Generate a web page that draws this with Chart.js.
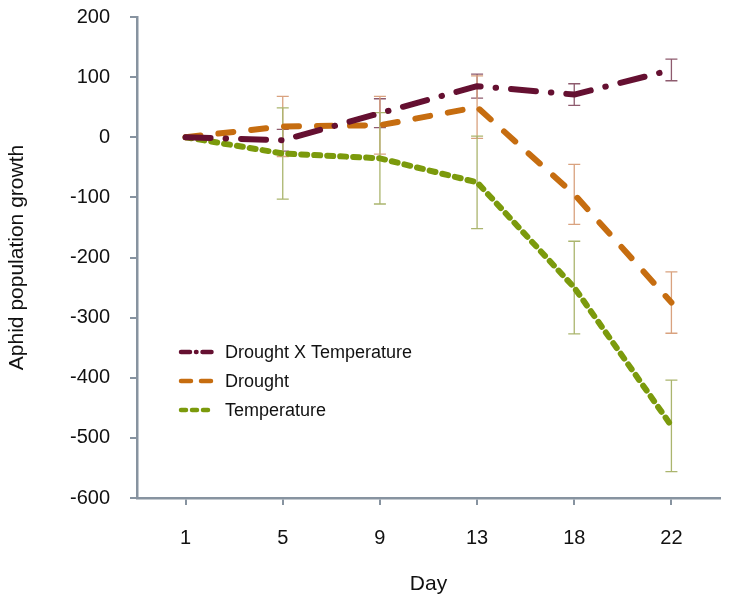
<!DOCTYPE html>
<html>
<head>
<meta charset="utf-8">
<script src="https://cdn.jsdelivr.net/npm/chart.js@4.4.1/dist/chart.umd.min.js"></script>
<style>
  html, body { margin: 0; padding: 0; background: #ffffff; }
  canvas { display: block; }
</style>
</head>
<body>
<canvas id="c" width="730" height="605"></canvas>
<script>
// ---- data ----
const days = ["1", "5", "9", "13", "18", "22"];
const seriesNames = ["Drought X Temperature", "Drought", "Temperature"];
const droughtXTemp = [0, -5, 40, 85, 71, 112];
const droughtXTempErr = [0, 18, 24, 20, 18, 18];
const drought = [0, 18, 20, 50, -95, -275];
const droughtErr = [0, 50, 48, 52, 50, 51];
const temperature = [0, -27, -35, -75, -250, -480];
const temperatureErr = [0, 76, 76, 77, 77, 76];
const yTicks = [200, 100, 0, -100, -200, -300, -400, -500, -600];

const FONT = "'Liberation Sans', Arial, sans-serif";
const AXIS = "#8793a0";

const styles = [
  { color: "#651031", err: "#8e5b6e", dash: [25, 15, 0.5, 15], legendDash: [9, 6, 0.5, 6] },
  { color: "#c66d10", err: "#d9a27f", dash: [15, 18], legendDash: [10, 10] },
  { color: "#7b9a0c", err: "#abb56e", dash: [6, 7], legendDash: [5, 6] }
];
const values = [droughtXTemp, drought, temperature];
const errors = [droughtXTempErr, droughtErr, temperatureErr];

const errorBars = {
  id: "errorBars",
  beforeDatasetsDraw(chart) {
    const ctx = chart.ctx, xs = chart.scales.x, ys = chart.scales.y;
    ctx.save();
    ctx.lineWidth = 1.3;
    chart.data.datasets.forEach((ds, di) => {
      ctx.strokeStyle = styles[di].err;
      ds.data.forEach((v, i) => {
        const e = ds.errors[i];
        if (!e) return;
        const x = xs.getPixelForValue(i);
        const yt = ys.getPixelForValue(v + e);
        const yb = ys.getPixelForValue(v - e);
        ctx.beginPath();
        ctx.moveTo(x, yt); ctx.lineTo(x, yb);
        ctx.moveTo(x - 6, yt); ctx.lineTo(x + 6, yt);
        ctx.moveTo(x - 6, yb); ctx.lineTo(x + 6, yb);
        ctx.stroke();
      });
    });
    ctx.restore();
  }
};

const legendInside = {
  id: "legendInside",
  afterDraw(chart) {
    const ctx = chart.ctx, ca = chart.chartArea;
    ctx.save();
    chart.data.datasets.forEach((ds, di) => {
      const y = ca.top + 335 + di * 29;
      const x0 = ca.left + 44;
      ctx.strokeStyle = styles[di].color;
      ctx.lineWidth = 4.5;
      ctx.lineCap = "round";
      ctx.setLineDash(styles[di].legendDash);
      ctx.beginPath();
      ctx.moveTo(x0, y); ctx.lineTo(x0 + 31, y);
      ctx.stroke();
      ctx.setLineDash([]);
      ctx.fillStyle = "#111111";
      ctx.font = "18px " + FONT;
      ctx.textBaseline = "middle";
      ctx.textAlign = "left";
      ctx.fillText(ds.label, x0 + 44, y + 1);
    });
    ctx.restore();
  }
};

const datasets = seriesNames.map((name, i) => ({
  label: name,
  data: values[i],
  errors: errors[i],
  borderColor: styles[i].color,
  backgroundColor: styles[i].color,
  borderWidth: 6,
  borderDash: styles[i].dash,
  borderCapStyle: "round",
  borderJoinStyle: "round",
  pointRadius: 0,
  fill: false,
  tension: 0
}));

new Chart(document.getElementById("c"), {
  type: "line",
  data: { labels: days, datasets },
  options: {
    responsive: false,
    devicePixelRatio: 1,
    animation: false,
    layout: { padding: { top: 17, right: 10, left: 0, bottom: 0 } },
    plugins: { legend: { display: false }, tooltip: { enabled: false } },
    scales: {
      x: {
        type: "category",
        offset: true,
        grid: { drawOnChartArea: false, color: AXIS, lineWidth: 2, tickLength: 7, offset: false },
        border: { color: AXIS, width: 2.5 },
        ticks: { color: "#111111", font: { family: FONT, size: 20 }, padding: 21 },
        title: { display: true, text: "Day", color: "#111111", font: { family: FONT, size: 21 }, padding: { top: 0, bottom: 8 } },
        afterFit(s) { s.height = 107; s.paddingLeft = 0; s.paddingRight = 0; }
      },
      y: {
        min: -600, max: 200,
        afterBuildTicks(s) { s.ticks = yTicks.map(v => ({ value: v })); },
        grid: { drawOnChartArea: false, color: AXIS, lineWidth: 2, tickLength: 7 },
        border: { color: AXIS, width: 2.5 },
        ticks: { color: "#111111", font: { family: FONT, size: 20 }, padding: 20 },
        title: { display: true, text: "Aphid population growth", color: "#111111", font: { family: FONT, size: 21 }, padding: { top: 5, bottom: 0 } },
        afterFit(s) { s.width = 137; s.paddingTop = 0; s.paddingBottom = 0; }
      }
    }
  },
  plugins: [errorBars, legendInside]
});
</script>
</body>
</html>
